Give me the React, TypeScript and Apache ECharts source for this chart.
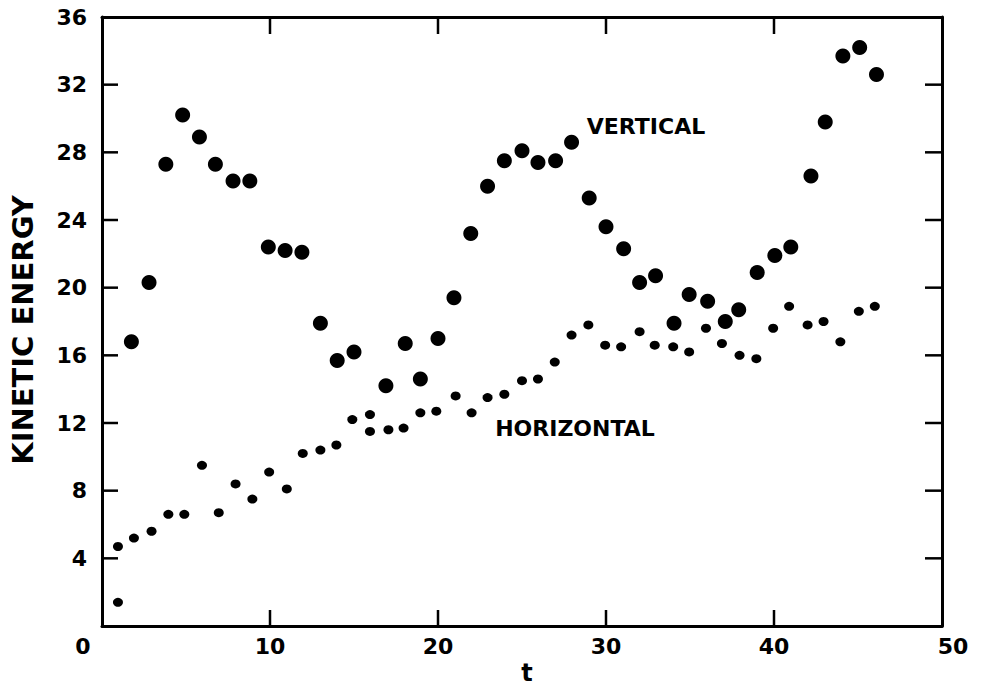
import React, { useEffect, useRef } from "react";
import * as echarts from "echarts";

// Vertical kinetic energy (large dots)
const verticalT = [1.75, 2.8, 3.8, 4.8, 5.8, 6.75, 7.8, 8.8, 9.9, 10.9, 11.9, 13, 14, 15, 16.9, 18.05, 18.95, 20, 20.95, 21.95, 22.95, 23.95, 25, 25.95, 27, 27.95, 29, 30, 31.05, 32, 32.95, 34.05, 34.95, 36.05, 37.1, 37.9, 39, 40.05, 41, 42.2, 43.05, 44.1, 45.1, 46.1];
const verticalKE = [16.8, 20.3, 27.3, 30.2, 28.9, 27.3, 26.3, 26.3, 22.4, 22.2, 22.1, 17.9, 15.7, 16.2, 14.2, 16.7, 14.6, 17.0, 19.4, 23.2, 26.0, 27.5, 28.1, 27.4, 27.5, 28.6, 25.3, 23.6, 22.3, 20.3, 20.7, 17.9, 19.6, 19.2, 18.0, 18.7, 20.9, 21.9, 22.4, 26.6, 29.8, 33.7, 34.2, 32.6];

// Horizontal kinetic energy (small dots)
const horizontalT = [0.95, 1.9, 2.95, 3.95, 4.9, 5.95, 6.95, 7.95, 8.95, 9.95, 11, 11.95, 13, 13.95, 14.9, 15.95, 17.05, 17.95, 18.95, 19.9, 21.05, 22, 22.95, 23.95, 25, 25.95, 26.95, 27.95, 28.95, 29.95, 30.9, 32, 32.9, 34, 34.95, 35.95, 36.9, 37.95, 38.95, 39.95, 40.9, 42, 42.95, 43.95, 45.05, 46];
const horizontalKE = [4.7, 5.2, 5.6, 6.6, 6.6, 9.5, 6.7, 8.4, 7.5, 9.1, 8.1, 10.2, 10.4, 10.7, 12.2, 11.5, 11.6, 11.7, 12.6, 12.7, 13.6, 12.6, 13.5, 13.7, 14.5, 14.6, 15.6, 17.2, 17.8, 16.6, 16.5, 17.4, 16.6, 16.5, 16.2, 17.6, 16.7, 16.0, 15.8, 17.6, 18.9, 17.8, 18.0, 16.8, 18.6, 18.9];

// Additional small marks
const extraT = [0.95, 15.95];
const extraKE = [1.4, 12.5];

const xTicks = [0, 10, 20, 30, 40, 50];
const yTicks = [0, 4, 8, 12, 16, 20, 24, 28, 32, 36];

const FONT = "DejaVu Sans";

export default function App() {
  const ref = useRef<HTMLDivElement>(null);
  useEffect(() => {
    document.body.style.margin = "0";
    const chart = echarts.init(ref.current!, null, { renderer: "svg" });
    const labelStyle = { fontFamily: FONT, fontWeight: "bold" as const, fontSize: 22, color: "#000" };
    const lineStyle = { color: "#000", width: 3 };
    const tickLine = { stroke: "#000", lineWidth: 2.5 };
    const xMin = xTicks[0];
    const xMax = xTicks[xTicks.length - 1];
    const yMin = yTicks[0];
    const yMax = yTicks[yTicks.length - 1];
    const baseAxis = {
      type: "value",
      splitLine: { show: false },
      axisTick: { show: false },
    };
    const option = {
      animation: false,
      backgroundColor: "#fff",
      grid: { left: 102, top: 17, width: 840, height: 609, show: false },
      xAxis: [
        {
          ...baseAxis,
          min: xMin,
          max: xMax,
          interval: 10,
          position: "bottom",
          axisLine: { show: true, onZero: false, lineStyle },
          axisLabel: {
            ...labelStyle,
            margin: 9,
            formatter: (v: number) => (v === 0 ? "{a|0}" : v === 50 ? "{b|50}" : "{c|" + v + "}"),
            rich: {
              a: { ...labelStyle, padding: [0, 38, 0, 0] },
              b: { ...labelStyle, padding: [0, 0, 0, 22] },
              c: { ...labelStyle },
            },
          },
        },
        {
          ...baseAxis,
          min: xMin,
          max: xMax,
          interval: 10,
          position: "top",
          axisLine: { show: true, onZero: false, lineStyle },
          axisLabel: { show: false },
        },
      ],
      yAxis: [
        {
          ...baseAxis,
          min: yMin,
          max: yMax,
          interval: 4,
          position: "left",
          axisLine: { show: true, onZero: false, lineStyle },
          axisLabel: { ...labelStyle, margin: 15, showMinLabel: false },
        },
        {
          ...baseAxis,
          min: yMin,
          max: yMax,
          interval: 4,
          position: "right",
          axisLine: { show: true, onZero: false, lineStyle },
          axisLabel: { show: false },
        },
      ],
      series: [
        {
          type: "scatter",
          name: "VERTICAL",
          data: verticalT.map((t, i) => [t, verticalKE[i]]),
          symbol: "circle",
          symbolSize: 15,
          itemStyle: { color: "#000", opacity: 1 },
        },
        {
          type: "scatter",
          name: "HORIZONTAL",
          data: horizontalT.map((t, i) => [t, horizontalKE[i]]),
          symbol: "circle",
          symbolSize: [10, 9],
          itemStyle: { color: "#000", opacity: 1 },
        },
        {
          type: "scatter",
          name: "extra",
          data: extraT.map((t, i) => [t, extraKE[i]]),
          symbol: "circle",
          symbolSize: [10, 9],
          itemStyle: { color: "#000", opacity: 1 },
        },
        {
          // inward tick marks on the left and right sides of the frame
          type: "custom",
          silent: true,
          clip: false,
          data: yTicks.slice(1, -1).map((v) => [xMin, v]),
          renderItem: (_p: any, api: any) => {
            const l = api.coord([xMin, api.value(1)]);
            const r = api.coord([xMax, api.value(1)]);
            return {
              type: "group",
              children: [
                { type: "line", shape: { x1: l[0], y1: l[1], x2: l[0] + 16, y2: l[1] }, style: tickLine },
                { type: "line", shape: { x1: r[0], y1: r[1], x2: r[0] - 17, y2: r[1] }, style: tickLine },
              ],
            };
          },
        },
        {
          // inward tick marks on the bottom and top sides of the frame
          type: "custom",
          silent: true,
          clip: false,
          data: xTicks.slice(1, -1).map((v) => [v, yMin]),
          renderItem: (_p: any, api: any) => {
            const b = api.coord([api.value(0), yMin]);
            const t = api.coord([api.value(0), yMax]);
            return {
              type: "group",
              children: [
                { type: "line", shape: { x1: b[0], y1: b[1], x2: b[0], y2: b[1] - 16 }, style: tickLine },
                { type: "line", shape: { x1: t[0], y1: t[1], x2: t[0], y2: t[1] + 17 }, style: tickLine },
              ],
            };
          },
        },
      ],
      graphic: [
        {
          type: "text",
          x: 646,
          y: 126,
          style: { text: "VERTICAL", font: `bold 22px "${FONT}"`, fill: "#000", textAlign: "center", textVerticalAlign: "middle" },
        },
        {
          type: "text",
          x: 575,
          y: 428,
          style: { text: "HORIZONTAL", font: `bold 22px "${FONT}"`, fill: "#000", textAlign: "center", textVerticalAlign: "middle" },
        },
        {
          type: "text",
          x: 527,
          y: 673,
          style: { text: "t", font: `bold 24px "${FONT}"`, fill: "#000", textAlign: "center", textVerticalAlign: "middle" },
        },
        {
          type: "text",
          x: 23,
          y: 330,
          rotation: Math.PI / 2,
          style: { text: "KINETIC ENERGY", font: `bold 29px "${FONT}"`, fill: "#000", textAlign: "center", textVerticalAlign: "middle" },
        },
      ],
    };
    chart.setOption(option as any);
    return () => chart.dispose();
  }, []);
  return <div ref={ref} style={{ width: 982, height: 689 }} />;
}
